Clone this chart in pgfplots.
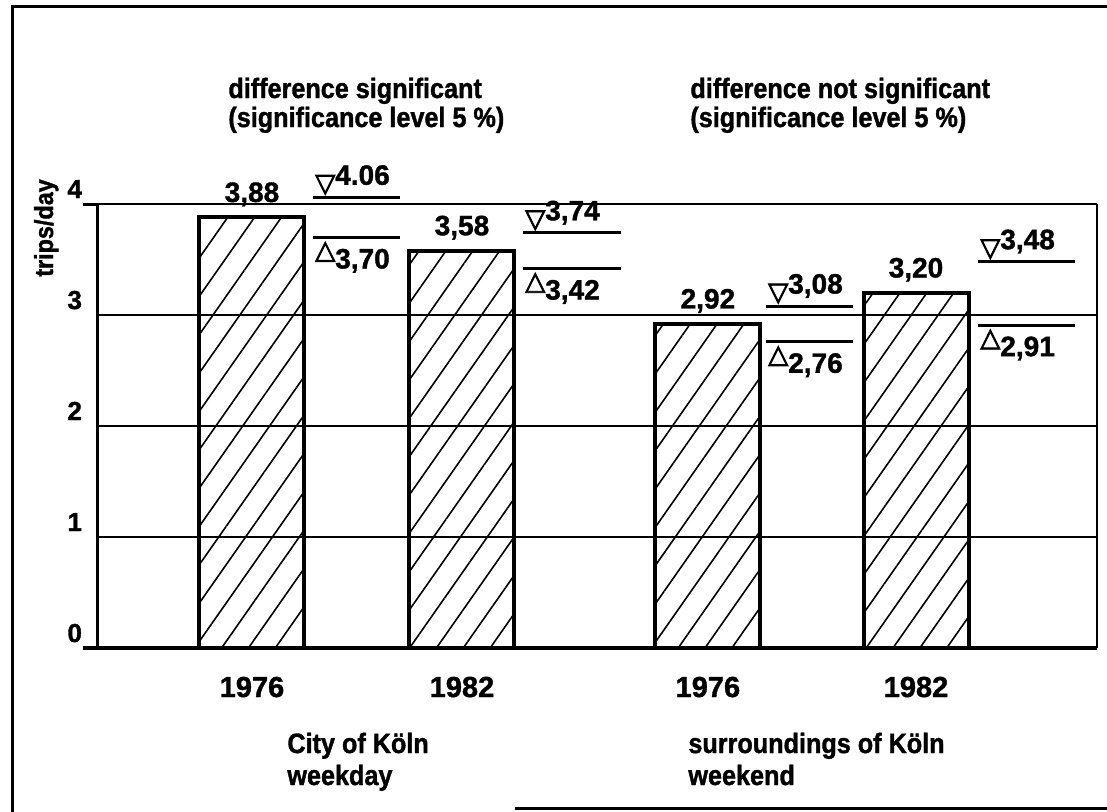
\documentclass[border=0pt]{standalone}
\usepackage{pgfplots}
\pgfplotsset{compat=1.18}
\usetikzlibrary{patterns.meta}
\usepackage{fontspec}
\setmainfont{Liberation Sans}[BoldFeatures={FakeBold=1.3}]
\newfontfamily\cond{Liberation Sans}[FakeStretch=0.9, BoldFeatures={FakeBold=1.3}]
\newfontfamily\sym{DejaVu Sans}[FakeBold=3]
\newcommand{\upl}[1]{{\sym\fontsize{13}{13}\selectfont ▽}\raisebox{3.5pt}{#1}}
\newcommand{\dnl}[1]{\raisebox{5pt}{\sym\fontsize{13}{13}\selectfont △}#1}
\begin{document}
\begin{tikzpicture}[x=0.5pt,y=-0.5pt]
\useasboundingbox (0,0) rectangle (1107,811);
\draw[line width=1.5pt] (1130,6) -- (12,6) -- (12,815);
\draw[line width=1.5pt] (515,808) -- (1130,808);
\coordinate (O) at (97,648);
\begin{axis}[
  at={(O)}, anchor=south west,
  scale only axis, width=500pt, height=222pt,
  xmin=0.262, xmax=5.024, ymin=0, ymax=4,
  clip=false,
  axis line style={draw=none},
  major tick length=0pt,
  ytick={0,1,2,3,4}, yticklabels={0,1,2,3,4},
  yticklabel style={anchor=base east, font=\bfseries\fontsize{13}{13}\selectfont, xshift=-4pt, yshift=3pt},
  xtick={1,2,3.171,4.162}, xticklabels={1976,1982,1976,1982},
  xticklabel style={anchor=base, font=\bfseries\fontsize{14.5}{14.5}\selectfont, yshift=-24.5pt},
  ymajorgrids, grid style={line width=1pt, black},
]
% axis frame lines
\draw[line width=1.5pt] (rel axis cs:0,0) -- (rel axis cs:0,1);
\draw[line width=1pt] (rel axis cs:1,0) -- (rel axis cs:1,1);
\draw[line width=2pt] ([xshift=-7pt]rel axis cs:0,0) -- (rel axis cs:1,0);
\draw[line width=1.5pt] ([xshift=-7pt]rel axis cs:0,1) -- (rel axis cs:0,1);
% bars
\addplot[ybar, bar width=0.5, draw=black, line width=2pt,
  pattern={Lines[angle=55,distance=11pt,line width=0.8pt]}]
  coordinates {(1,3.88) (2,3.58) (3.171,2.92) (4.162,3.20)};
% confidence limits
\addplot[line width=1.5pt] coordinates {(1.290,4.06) (1.705,4.06)};
\addplot[line width=1.5pt] coordinates {(1.290,3.70) (1.705,3.70)};
\addplot[line width=1.5pt] coordinates {(2.290,3.74) (2.757,3.74)};
\addplot[line width=1.5pt] coordinates {(2.290,3.42) (2.757,3.42)};
\addplot[line width=1.5pt] coordinates {(3.447,3.08) (3.861,3.08)};
\addplot[line width=1.5pt] coordinates {(3.447,2.76) (3.861,2.76)};
\addplot[line width=1.5pt] coordinates {(4.457,3.48) (4.919,3.48)};
\addplot[line width=1.5pt] coordinates {(4.457,2.91) (4.919,2.91)};
% value labels
\begin{scope}[every node/.style={font=\bfseries\fontsize{14}{14}\selectfont}]
\node[anchor=south, yshift=2pt] at (axis cs:1,3.88) {3,88};
\node[anchor=south, yshift=2pt] at (axis cs:2,3.58) {3,58};
\node[anchor=south, yshift=2pt] at (axis cs:3.171,2.92) {2,92};
\node[anchor=south, yshift=2pt] at (axis cs:4.162,3.20) {3,20};
\node[anchor=south west, inner sep=1pt] at (axis cs:1.290,4.06) {\upl{4.06}};
\node[anchor=north west, inner sep=1pt, yshift=-1pt] at (axis cs:1.290,3.70) {\dnl{3,70}};
\node[anchor=south west, inner sep=1pt] at (axis cs:2.290,3.74) {\upl{3,74}};
\node[anchor=north west, inner sep=1pt, yshift=-1pt] at (axis cs:2.290,3.42) {\dnl{3,42}};
\node[anchor=south west, inner sep=1pt] at (axis cs:3.447,3.08) {\upl{3,08}};
\node[anchor=north west, inner sep=1pt, yshift=-1pt] at (axis cs:3.447,2.76) {\dnl{2,76}};
\node[anchor=south west, inner sep=1pt] at (axis cs:4.457,3.48) {\upl{3,48}};
\node[anchor=north west, inner sep=1pt, yshift=-1pt] at (axis cs:4.457,2.91) {\dnl{2,91}};
\end{scope}
\end{axis}
% y label
\node[rotate=90, anchor=base, inner sep=0pt, font=\cond\bfseries\fontsize{13}{13}\selectfont] at (53,228) {trips/day};
% headings
\begin{scope}[every node/.style={anchor=base west, inner sep=0pt, font=\cond\bfseries\fontsize{14}{14}\selectfont}]
\node at (228,98) {difference significant};
\node at (228,127) {(significance level 5 \%)};
\node at (690,98) {difference not significant};
\node at (690,127) {(significance level 5 \%)};
\node at (287,753) {City of Köln};
\node at (287,785) {weekday};
\node at (688,753) {surroundings of Köln};
\node at (688,785) {weekend};
\end{scope}
\end{tikzpicture}
\end{document}
